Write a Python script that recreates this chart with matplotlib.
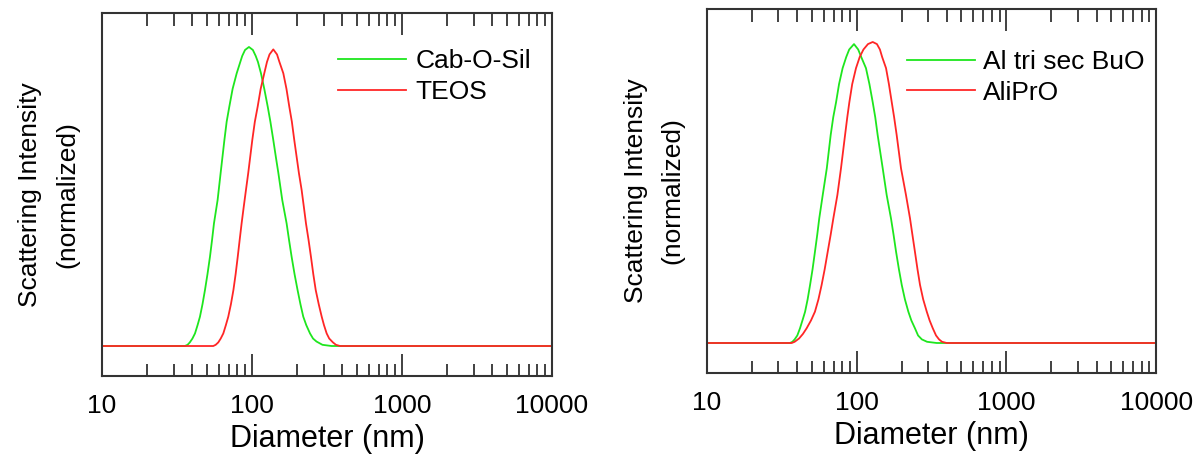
import matplotlib
matplotlib.use("Agg")
import matplotlib.pyplot as plt
from matplotlib.ticker import LogLocator, NullFormatter, FixedLocator, FixedFormatter

plt.rcParams['font.family'] = ['Liberation Sans', 'DejaVu Sans']

# ----- данные (диаметр в нм, интенсивность нормирована) -----
# левая панель
d_cab = [10, 35.7, 37.2, 38.5, 40.1, 41.7, 43.4, 45.0, 46.8, 48.6, 50.5, 52.5, 54.2, 55.8, 59.0,
         61.8, 65.5, 67.8, 70.6, 74.3, 79.1, 83.6, 86.1, 89.9, 95.5,
         101.4, 105.9, 109.6, 114.8, 120.8, 127.4, 132.7, 138.7, 144.5, 150.0, 159.2, 170.2,
         176.6, 183.7, 192.3, 201.4, 210.4, 219.8, 230.1, 243.8, 255.3, 269.2, 295.1, 339.6, 10000]
i_cab = [0, 0, 0.004, 0.012, 0.025, 0.042, 0.07, 0.098, 0.14, 0.187, 0.24, 0.299, 0.355, 0.41, 0.488,
         0.578, 0.689, 0.75, 0.80, 0.86, 0.912, 0.95, 0.97, 0.99, 1.0,
         0.99, 0.97, 0.95, 0.912, 0.86, 0.80, 0.75, 0.689, 0.63, 0.578, 0.488, 0.41,
         0.355, 0.299, 0.24, 0.187, 0.14, 0.098, 0.07, 0.042, 0.025, 0.015, 0.004, 0, 0]

d_teos = [10, 55.2, 57.3, 59.6, 61.9, 64.4, 67.0, 69.5, 72.4, 75.2, 77.8, 80.4, 82.8, 85.3, 88.1,
          91.2, 94.4, 100.5, 104.5, 109.1, 114.3, 120.8, 125.9, 130.9, 138.7,
          146.9, 152.4, 161.8, 169.8, 177.4, 184.5, 191.4, 205.6, 214.3, 221.8, 229.1, 238.3,
          247.2, 256.4, 266.1, 278.6, 291.7, 302.0, 314.8, 327.3, 346.7, 363.1, 386.4, 10000]
i_teos = [0, 0, 0.004, 0.012, 0.025, 0.042, 0.07, 0.098, 0.14, 0.187, 0.24, 0.299, 0.355, 0.41, 0.465,
          0.522, 0.578, 0.689, 0.75, 0.80, 0.86, 0.912, 0.95, 0.975, 0.992,
          0.975, 0.95, 0.912, 0.86, 0.80, 0.75, 0.689, 0.578, 0.522, 0.465, 0.41, 0.355,
          0.299, 0.24, 0.187, 0.14, 0.098, 0.07, 0.042, 0.025, 0.012, 0.004, 0, 0]

# правая панель
d_albu = [10, 35.8, 37.2, 38.5, 40.1, 41.8, 43.4, 45.2, 47.0, 48.8, 50.7, 52.6, 54.5, 56.2, 59.3,
          63.1, 67.0, 69.7, 72.8, 76.2, 80.5, 85.1, 89.1, 95.9,
          102.3, 107.2, 115.3, 121.6, 127.9, 133.0, 138.0, 149.2, 158.5, 169.4, 176.2, 183.2,
          191.4, 199.9, 209.9, 221.3, 231.7, 244.9, 257.0, 272.3, 295.1, 342.0, 10000]
i_albu = [0, 0, 0.004, 0.012, 0.025, 0.049, 0.075, 0.104, 0.145, 0.193, 0.245, 0.303, 0.36, 0.414, 0.492,
          0.58, 0.691, 0.75, 0.80, 0.86, 0.913, 0.95, 0.975, 0.993,
          0.975, 0.95, 0.913, 0.86, 0.80, 0.75, 0.691, 0.58, 0.492, 0.414, 0.36, 0.303,
          0.245, 0.193, 0.145, 0.104, 0.075, 0.049, 0.025, 0.012, 0.004, 0, 0]

d_alipro = [10, 36.8, 38.5, 41.2, 43.7, 46.3, 49.5, 52.6, 55.5, 58.3, 61.1, 64.0, 67.0, 69.8, 74.3,
            78.5, 83.6, 86.5, 89.3, 93.3, 98.9, 104.7, 110.9, 118.9, 127.9,
            136.5, 142.9, 147.9, 157.0, 164.1, 171.4, 177.8, 184.9, 197.7, 213.3, 227.0, 235.5,
            244.9, 254.7, 264.8, 278.0, 293.8, 306.9, 322.2, 338.8, 354.8, 371.5, 399.0, 10000]
i_alipro = [0, 0, 0.004, 0.015, 0.03, 0.049, 0.075, 0.104, 0.145, 0.193, 0.245, 0.303, 0.36, 0.414, 0.492,
            0.58, 0.691, 0.75, 0.80, 0.86, 0.913, 0.95, 0.975, 0.993, 1.0,
            0.993, 0.975, 0.95, 0.913, 0.86, 0.80, 0.75, 0.691, 0.58, 0.492, 0.414, 0.36,
            0.303, 0.245, 0.193, 0.145, 0.104, 0.075, 0.049, 0.025, 0.012, 0.004, 0, 0]

tick_vals = [10, 100, 1000, 10000]
tick_text = ["10", "100", "1000", "10000"]

GREEN = '#1ee61e'
RED = '#ff2626'
DARK = '#333333'


def style_axes(ax, ylim):
    ax.set_xscale('log')
    ax.set_xlim(10, 10000)
    ax.set_ylim(*ylim)
    ax.xaxis.set_major_locator(FixedLocator(tick_vals))
    ax.xaxis.set_major_formatter(FixedFormatter(tick_text))
    ax.xaxis.set_minor_locator(LogLocator(base=10, subs=range(2, 10)))
    ax.xaxis.set_minor_formatter(NullFormatter())
    ax.tick_params(axis='x', which='both', direction='in', top=True, bottom=True,
                   color=DARK, width=1.3, labelsize=19, pad=13)
    ax.tick_params(axis='x', which='major', length=16)
    ax.tick_params(axis='x', which='minor', length=9)
    ax.set_yticks([])
    for s in ax.spines.values():
        s.set_color(DARK)
        s.set_linewidth(1.5)
    ax.set_xlabel("Diameter (nm)", fontsize=22, labelpad=4)
    ax.set_ylabel("Scattering Intensity\n(normalized)", fontsize=19, labelpad=16,
                  linespacing=1.7)


fig = plt.figure(figsize=(12.01, 4.54), dpi=100)
ax1 = fig.add_axes([0.0849, 0.1718, 0.3747, 0.7996])
ax2 = fig.add_axes([0.5887, 0.1784, 0.3739, 0.8018])

ax1.plot(d_cab, i_cab, color=GREEN, lw=1.3, label="Cab-O-Sil")
ax1.plot(d_teos, i_teos, color=RED, lw=1.3, label="TEOS")
style_axes(ax1, (-0.1003, 1.1137))
ax1.legend(loc='upper left', bbox_to_anchor=(0.524, 0.90), frameon=False, fontsize=19,
           borderpad=0, borderaxespad=0, handlelength=2.6, handletextpad=0.34,
           labelspacing=0.25)

ax2.plot(d_albu, i_albu, color=GREEN, lw=1.3, label="Al tri sec BuO")
ax2.plot(d_alipro, i_alipro, color=RED, lw=1.3, label="AliPrO")
style_axes(ax2, (-0.0997, 1.1096))
ax2.legend(loc='upper left', bbox_to_anchor=(0.445, 0.887), frameon=False, fontsize=19,
           borderpad=0, borderaxespad=0, handlelength=2.6, handletextpad=0.27,
           labelspacing=0.25)

fig.savefig("out.png", dpi=100)
